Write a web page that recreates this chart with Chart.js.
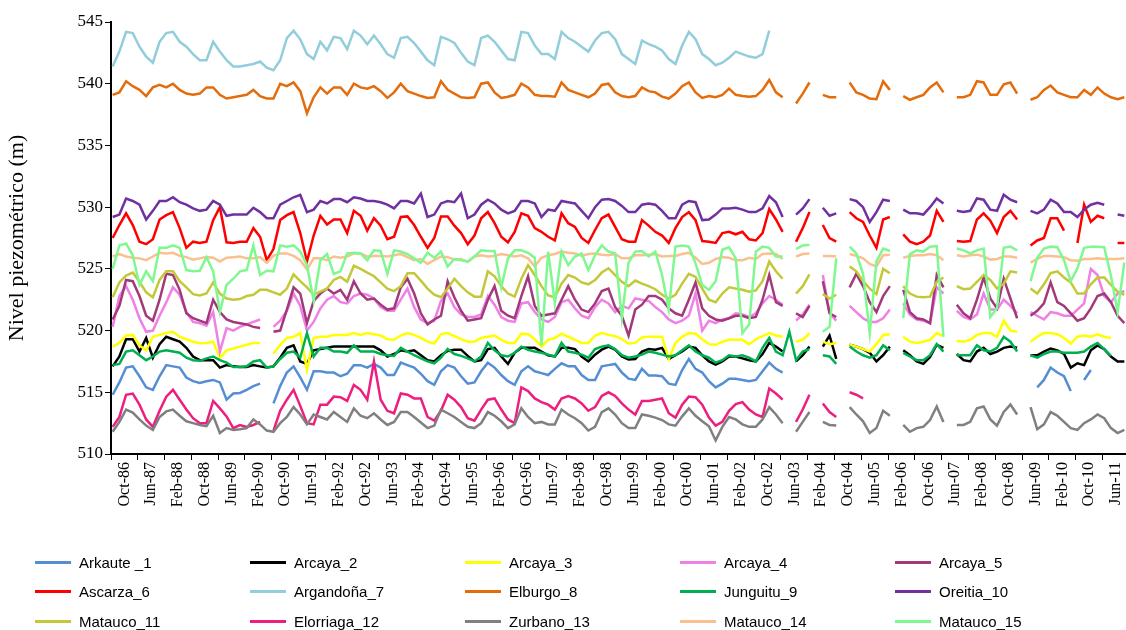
<!DOCTYPE html>
<html>
<head>
<meta charset="utf-8">
<script src="https://cdn.jsdelivr.net/npm/chart.js@4.4.1/dist/chart.umd.min.js"></script>
<style>
  html, body { margin: 0; padding: 0; background: #ffffff; }
  #wrap { position: relative; width: 1126px; height: 630px; }
  #legend { position: absolute; left: 0; top: 0; width: 1126px; height: 630px; pointer-events: none; }
  .item { position: absolute; display: flex; align-items: center; height: 20px;
          font-family: 'Liberation Sans', Arial, sans-serif; font-size: 15px; color: #000; white-space: nowrap; }
  .item i { display: inline-block; width: 36px; height: 3px; margin-right: 8px; }
</style>
</head>
<body>
<div id="wrap">
  <canvas id="c" width="1126" height="630"></canvas>
  <div id="legend"></div>
</div>
<script>
// Tick labels, one every 8 months starting Oct-86
const tickLabels = ['Oct-86','Jun-87','Feb-88','Oct-88','Jun-89','Feb-90','Oct-90','Jun-91','Feb-92','Oct-92',
  'Jun-93','Feb-94','Oct-94','Jun-95','Feb-96','Oct-96','Jun-97','Feb-98','Oct-98','Jun-99',
  'Feb-00','Oct-00','Jun-01','Feb-02','Oct-02','Jun-03','Feb-04','Oct-04','Jun-05','Feb-06',
  'Oct-06','Jun-07','Feb-08','Oct-08','Jun-09','Feb-10','Oct-10','Jun-11'];

// Piezometric levels (m), one reading every two months from Oct-86; null = no reading
const arkaute1 = [514.8,515.8,517.0,517.1,516.3,515.4,515.2,516.3,517.2,517.1,517.0,516.2,515.9,515.75,515.9,516.0,515.8,514.4,514.9,514.95,515.2,515.5,515.7,null,514.1,515.5,516.6,517.1,516.2,515.2,516.7,516.7,516.6,516.6,516.3,516.5,517.2,517.2,517.0,
  517.3,517.0,516.4,516.4,517.4,517.2,517.0,516.5,515.9,515.6,516.7,517.2,517.0,516.3,515.7,515.8,516.7,517.4,517.0,516.4,515.9,515.6,516.7,517.1,516.7,516.55,516.4,516.9,517.35,517.1,517.1,516.4,516.0,516.0,517.1,517.2,517.3,516.6,516.1,
  516.0,516.9,516.35,516.35,516.3,515.7,515.6,516.8,517.7,516.9,516.6,515.9,515.4,515.7,516.1,516.1,516.0,515.9,516.0,516.7,517.4,516.9,516.6,null,null,null,null,null,null,null,null,null,null,null,null,null,null,
  null,null,null,null,null,null,null,null,null,null,null,null,null,null,null,null,null,null,null,null,null,null,null,515.4,516.0,517.0,516.6,516.3,515.1,null,516.0,516.8,null,null,null,null,null];
const arcaya2 = [517.1,517.9,519.3,519.3,518.3,519.4,517.8,518.9,519.5,519.3,519.1,518.6,517.9,517.6,517.6,517.6,517.0,517.2,517.1,517.05,517.05,517.2,517.1,517.0,517.1,517.8,518.6,518.8,517.5,517.3,518.4,518.5,518.6,518.7,518.7,518.7,518.7,518.7,518.7,
  518.7,518.4,517.9,518.1,518.4,518.3,518.4,518.0,517.6,517.5,518.0,518.35,518.45,518.45,517.95,517.5,517.6,518.5,518.6,517.9,517.3,518.2,518.6,518.6,518.6,518.3,518.0,517.9,518.6,518.6,518.5,517.9,517.5,518.05,518.45,518.7,518.45,517.9,517.65,
  517.7,518.3,518.5,518.45,518.6,517.7,518.0,518.3,518.7,518.6,518.0,517.5,517.25,517.5,517.9,517.9,517.75,517.6,517.5,518.1,519.0,518.7,518.3,null,517.5,518.0,518.7,null,518.7,519.6,517.7,null,518.85,518.7,518.5,518.2,517.5,
  518.0,518.7,null,518.4,518.0,517.5,517.3,517.85,518.85,518.6,null,518.1,517.6,517.5,518.3,518.6,518.1,518.3,518.6,518.7,518.6,null,518.0,518.0,518.3,518.55,518.4,518.1,517.0,517.35,517.2,518.4,518.8,518.5,517.9,517.5,517.5];
const arcaya3 = [518.7,519.0,519.6,519.65,518.8,518.4,519.5,519.65,519.8,519.9,519.5,519.3,519.1,518.97,519.0,519.1,517.8,518.4,518.55,518.7,518.85,519.0,519.0,null,518.15,518.85,519.4,519.5,519.8,516.8,519.4,519.5,519.5,519.65,519.65,519.65,519.8,519.65,519.8,
  519.7,519.6,519.3,519.25,519.6,519.8,519.65,519.4,519.1,518.95,519.7,519.8,519.55,519.3,519.1,519.1,519.4,519.5,519.6,519.25,519.0,519.0,519.75,519.7,519.3,518.7,519.25,519.4,519.75,519.5,519.25,519.0,519.0,519.6,519.8,519.65,519.55,519.3,518.95,
  519.0,519.45,519.5,519.5,519.5,517.7,519.0,519.5,519.8,519.75,519.3,518.9,518.85,519.1,519.25,519.25,519.25,518.9,519.3,519.55,519.8,519.6,519.5,null,519.1,519.25,519.8,null,519.1,518.9,519.0,null,518.85,518.7,518.5,518.3,518.9,
  519.65,519.7,null,519.5,519.1,519.0,519.1,519.25,519.8,519.55,null,519.15,519.1,519.25,519.65,519.8,519.8,519.5,520.8,520.0,519.9,null,519.1,519.5,519.8,519.8,519.7,519.4,518.95,519.5,519.6,519.5,519.7,519.5,519.4,null,null];
const arcaya4 = [520.3,522.8,523.6,522.5,521.0,519.9,520.0,521.2,522.3,523.5,522.9,521.5,520.7,520.6,520.4,521.5,518.3,520.2,520.0,520.3,520.5,520.7,520.9,null,520.3,520.8,521.6,523.0,522.0,520.0,520.7,521.8,522.5,522.8,522.3,522.2,522.8,523.0,522.9,
  522.6,521.9,521.6,521.6,522.5,523.4,521.9,520.9,520.6,520.8,522.4,523.0,521.9,521.3,521.1,521.1,521.3,522.8,522.1,521.1,520.8,520.7,522.2,522.3,521.5,520.9,520.7,521.1,522.3,522.5,521.8,521.2,521.0,521.9,522.5,522.2,521.5,522.0,521.8,
  522.6,522.5,522.4,521.9,521.5,520.9,520.6,520.8,521.2,523.0,520.0,520.8,520.6,520.9,521.0,521.4,521.3,521.1,521.4,522.2,522.8,522.5,522.1,null,520.8,521.3,522.1,null,524.5,521.4,520.8,null,522.0,521.5,521.0,520.7,520.7,
  521.0,521.7,null,522.2,521.3,520.9,520.8,520.6,523.5,523.0,null,521.6,521.1,520.9,521.3,523.0,521.7,521.7,522.5,522.0,521.4,null,521.5,521.2,520.9,521.5,521.4,521.2,521.2,521.7,522.2,525.0,524.5,522.8,522.3,523.0,523.2];
const arcaya5 = [520.9,522.0,524.1,524.0,522.8,521.2,520.8,522.5,524.6,524.5,523.3,521.4,521.0,520.8,520.6,522.5,521.5,520.9,520.7,520.6,520.5,520.3,520.2,null,519.9,520.0,521.7,523.5,523.0,520.6,522.4,523.0,523.4,523.0,523.3,522.5,524.0,523.0,522.5,
  522.6,522.1,521.7,521.8,523.5,524.2,523.0,521.4,520.5,520.9,521.2,524.0,522.7,521.6,520.8,520.9,521.0,522.5,523.6,521.6,521.2,521.0,522.8,524.4,522.0,521.2,521.3,521.4,522.5,523.6,522.5,521.7,521.5,522.2,523.2,523.4,521.9,521.2,519.6,
  521.7,522.1,522.8,522.8,522.5,521.8,521.4,521.2,522.5,523.9,521.8,521.2,520.9,520.8,521.0,521.2,521.2,521.0,521.1,522.5,524.5,522.3,522.0,null,521.4,521.1,522.0,null,524.0,521.4,521.1,null,523.5,524.6,523.6,522.3,521.5,
  522.8,523.6,null,523.3,521.5,521.0,520.9,520.6,524.5,523.5,null,522.1,521.4,521.0,522.5,524.3,522.6,521.8,524.2,522.6,521.0,null,521.2,521.6,522.2,523.9,522.3,522.0,521.4,520.8,521.0,521.8,522.8,523.0,522.3,521.2,520.6];
const ascarza6 = [527.5,528.55,529.5,528.55,527.2,527.0,527.4,529.0,529.35,529.6,528.3,526.7,527.2,527.1,527.2,528.95,530.0,527.15,527.1,527.2,527.2,528.3,527.6,525.7,526.6,528.95,529.35,529.6,527.9,525.6,527.7,529.3,528.6,529.0,529.0,527.9,529.7,529.3,528.1,
  529.1,528.5,527.4,527.6,529.2,529.25,528.55,527.6,526.7,527.5,529.25,529.25,528.5,527.9,527.0,527.7,529.1,529.6,528.7,527.6,527.15,528.0,529.5,529.3,528.3,528.0,527.6,527.3,529.5,528.7,528.4,527.5,527.1,528.15,529.1,529.4,528.4,527.4,527.2,
  527.2,528.95,528.5,528.0,527.7,527.1,528.3,529.2,529.6,528.95,527.25,527.2,527.1,527.9,528.0,527.8,528.0,527.4,527.3,527.9,529.85,529.0,528.0,null,527.2,528.3,529.6,null,528.55,527.5,527.2,null,529.6,529.1,528.8,527.7,526.7,
  529.0,529.2,null,527.8,527.2,527.0,527.2,527.7,529.7,528.8,null,527.25,527.2,527.25,529.0,529.5,528.9,527.9,529.2,529.7,529.0,null,526.9,527.3,527.5,529.1,529.1,528.1,null,527.1,530.2,528.8,529.3,529.1,null,527.1,527.1];
const argandona7 = [541.4,542.6,544.2,544.1,543.0,542.2,541.7,543.4,544.1,544.2,543.4,543.0,542.4,541.9,541.9,543.4,542.6,541.9,541.4,541.4,541.5,541.6,541.8,541.3,541.1,541.9,543.7,544.3,543.6,542.4,542.0,543.4,542.7,543.8,543.7,542.8,544.3,543.9,543.2,
  543.9,543.2,542.4,542.1,543.7,543.8,543.3,542.6,541.9,541.5,543.8,543.6,543.3,542.5,541.8,541.5,543.7,543.9,543.4,542.7,542.0,541.9,544.2,544.1,543.1,542.4,542.4,542.0,544.2,543.7,543.4,543.0,542.6,543.5,544.1,544.2,543.6,542.4,542.0,
  541.6,543.5,543.2,543.0,542.7,542.0,541.6,543.1,544.2,543.6,542.4,542.0,541.5,541.7,542.1,542.6,542.4,542.2,542.1,542.4,544.3,null,null,null,null,null,null,null,null,null,null,null,null,null,null,null,null,
  null,null,null,null,null,null,null,null,null,null,null,null,null,null,null,null,null,null,null,null,null,null,null,null,null,null,null,null,null,null,null,null,null,null,null,null,null];
const elburgo8 = [539.1,539.3,540.2,539.8,539.5,539.0,539.7,539.9,539.7,540.0,539.5,539.2,539.1,539.2,539.7,539.7,539.1,538.8,538.9,539.0,539.1,539.5,539.0,538.8,538.8,540.0,539.8,540.1,539.4,537.6,538.9,539.7,539.2,539.7,539.7,539.1,540.0,539.7,539.6,
  539.8,539.4,538.85,539.3,540.0,539.4,539.2,539.0,538.85,538.9,540.2,539.5,539.2,538.9,538.85,538.9,540.0,540.1,539.3,538.85,538.95,539.1,540.0,539.7,539.1,539.0,539.0,538.95,540.1,539.5,539.3,539.1,538.9,539.2,539.9,540.0,539.3,539.0,538.9,
  539.0,539.7,539.4,539.3,538.95,538.8,539.2,539.8,540.1,539.3,538.85,539.0,538.9,539.1,539.6,539.1,539.0,538.95,539.0,539.5,540.3,539.3,538.9,null,538.4,539.2,540.1,null,539.1,538.9,538.9,null,540.1,539.3,539.1,538.8,538.75,
  540.2,539.5,null,539.0,538.7,538.9,539.1,539.7,540.1,539.3,null,538.9,538.9,539.1,540.2,540.1,539.1,539.1,539.95,540.1,539.2,null,538.7,538.9,539.5,539.85,539.3,539.1,538.9,538.9,539.5,539.1,539.7,539.2,538.9,538.75,538.9];
const junguitu9 = [517.2,517.3,518.3,518.4,518.0,517.6,517.9,518.3,518.4,518.3,518.2,517.8,517.6,517.55,517.75,517.9,517.6,517.4,517.05,517.05,517.1,517.5,517.6,517.0,517.1,517.7,518.2,518.3,517.8,519.8,517.9,518.6,518.6,518.3,518.3,518.2,518.8,518.3,518.3,
  518.3,518.1,518.0,517.95,518.6,518.3,518.0,517.75,517.5,517.35,517.8,518.5,518.1,517.95,517.75,517.5,517.9,519.0,518.4,518.0,517.9,518.2,518.7,518.45,518.3,518.2,518.05,517.9,519.0,518.3,518.2,518.05,517.8,518.5,518.7,518.8,518.5,518.0,517.8,
  517.9,518.05,518.3,518.2,518.05,517.9,518.0,518.4,518.8,518.3,518.0,517.8,517.4,517.6,518.0,517.9,518.0,517.8,517.5,518.6,519.4,518.3,518.0,519.9,517.6,518.3,518.5,null,518.0,517.9,517.3,null,518.7,518.3,518.0,517.8,518.0,
  518.8,518.4,null,518.2,517.9,517.6,517.6,518.0,518.9,518.3,null,518.0,518.0,518.0,518.8,518.4,518.3,518.6,519.5,519.1,518.3,null,518.0,517.8,518.1,518.3,518.3,518.2,518.2,518.2,518.3,518.7,519.0,518.5,517.95,null,null];
const oreitia10 = [529.2,529.4,530.7,530.5,530.2,529.0,529.7,530.5,530.5,530.8,530.4,530.2,529.9,529.7,529.8,530.5,530.2,529.3,529.4,529.4,529.4,529.95,529.6,529.1,529.1,530.2,530.5,530.8,531.0,529.6,529.8,530.5,530.3,530.65,530.65,530.4,530.8,530.7,530.5,
  530.5,530.4,530.2,529.9,530.5,530.5,530.3,531.1,529.2,529.4,530.3,530.5,530.4,531.1,529.1,529.4,530.2,530.6,530.3,529.8,529.5,529.7,530.5,530.5,530.3,529.2,529.8,529.7,530.5,530.4,530.3,529.7,529.1,530.0,530.6,530.65,530.5,530.1,529.6,
  529.6,530.2,530.3,530.2,529.7,529.1,529.1,530.2,530.5,530.4,528.95,529.0,529.4,529.9,529.9,529.95,529.8,529.6,529.6,529.9,530.9,530.4,529.2,null,529.4,529.9,530.65,null,529.95,529.3,529.5,null,530.65,530.5,530.0,528.8,529.6,
  530.6,530.5,null,529.8,529.5,529.5,529.4,530.0,530.7,530.3,null,529.7,529.6,529.7,530.7,530.6,529.8,529.7,531.0,530.6,530.4,null,529.7,529.5,529.8,530.6,530.3,529.6,529.6,529.2,529.8,530.2,530.35,530.2,null,529.4,529.3];
const matauco11 = [522.7,523.9,524.45,524.7,523.95,523.1,522.7,524.1,524.8,524.8,524.0,523.5,522.95,522.85,523.0,523.9,523.0,522.6,522.5,522.55,522.8,522.9,523.3,523.3,523.1,522.9,523.4,524.55,524.0,523.5,522.9,523.15,523.4,524.1,524.35,523.95,525.25,525.0,524.7,
  524.4,523.9,523.4,523.2,523.6,524.65,524.65,524.05,523.4,522.9,522.7,523.4,524.2,523.6,523.1,522.75,522.75,524.8,524.4,523.6,523.0,522.75,524.2,525.3,524.5,523.6,522.85,522.7,523.8,524.5,524.3,523.9,523.75,524.1,524.7,525.05,524.5,523.95,523.6,
  524.05,523.8,523.6,523.35,522.9,522.6,522.9,523.8,524.6,524.35,523.4,522.5,522.3,523.0,523.5,523.4,523.3,523.15,523.25,524.0,525.6,524.8,524.2,null,523.0,523.6,524.55,null,522.95,522.6,522.9,null,525.2,524.8,524.0,523.4,522.95,
  525.0,524.65,null,523.6,523.0,522.75,522.7,522.75,523.95,524.3,null,523.6,523.35,523.4,523.95,524.5,524.1,523.4,523.8,524.8,524.7,null,523.4,523.0,523.75,524.65,524.8,524.3,523.9,523.0,523.0,523.75,524.3,524.3,523.7,523.15,522.9];
const elorriaga12 = [512.2,513.0,514.8,514.9,514.0,512.8,512.2,513.5,514.65,515.2,514.4,513.6,512.9,512.5,512.5,514.3,513.7,513.05,512.1,512.35,512.2,512.35,512.6,null,511.9,513.5,514.4,515.2,513.9,512.5,512.4,514.0,514.0,514.65,514.6,514.3,515.6,515.2,514.4,
  517.5,514.4,513.5,513.3,514.9,514.8,514.5,514.5,513.0,512.7,513.5,514.8,514.4,513.8,512.9,512.7,513.6,514.4,514.5,513.6,512.8,512.5,515.4,515.1,514.5,514.2,514.0,513.6,514.5,514.7,514.5,514.1,513.5,513.8,514.7,515.0,514.7,514.1,513.6,
  513.2,514.3,514.3,514.4,514.5,513.3,512.95,514.0,514.65,514.6,514.0,512.95,512.3,512.6,513.5,514.05,514.2,513.6,513.2,513.0,515.3,514.9,514.4,null,512.6,513.6,514.8,null,514.1,513.4,513.0,null,515.0,514.8,514.5,null,null,
  null,null,null,null,null,null,null,null,null,null,null,null,null,null,null,null,null,null,null,null,null,null,null,null,null,null,null,null,null,null,null,null,null,null,null,null,null];
const zurbano13 = [511.8,512.6,513.6,513.35,512.8,512.3,511.95,513.0,513.45,513.6,513.1,512.65,512.5,512.35,512.25,513.1,511.7,512.1,511.95,512.0,512.1,512.8,512.4,511.9,511.8,512.5,513.0,513.8,513.2,512.4,513.2,513.0,512.8,513.4,513.0,512.6,513.7,513.1,512.9,
  513.3,512.8,512.35,512.6,513.4,513.4,513.0,512.55,512.1,512.3,513.6,513.3,513.0,512.6,512.2,512.1,512.5,513.4,513.1,512.65,512.1,512.4,513.7,513.0,512.5,512.6,512.4,512.4,513.6,513.2,512.9,512.5,511.9,512.2,513.4,513.7,513.2,512.5,512.1,
  512.1,513.2,513.1,512.95,512.75,512.4,512.3,513.05,513.7,513.1,512.65,512.25,511.1,512.2,513.0,512.8,512.4,512.2,512.2,512.8,513.8,513.2,512.5,null,511.8,512.6,513.4,null,512.6,512.35,512.3,null,513.8,513.2,512.65,511.7,512.1,
  513.5,513.1,null,512.35,511.8,512.1,512.2,512.75,513.85,512.6,null,512.35,512.35,512.6,513.7,513.85,512.8,512.3,513.4,514.0,513.2,null,513.8,512.0,512.4,513.4,513.1,512.6,512.1,511.95,512.5,512.8,513.2,512.9,512.1,511.7,511.95];
const matauco14 = [526.0,526.2,526.0,525.9,525.85,525.7,526.0,526.3,526.25,526.3,526.05,525.95,525.75,525.85,525.95,525.9,525.6,525.9,525.95,526.0,525.85,525.85,525.95,525.5,526.05,526.25,526.25,526.05,525.7,524.95,525.85,525.85,525.7,526.0,525.9,526.0,526.25,526.25,526.0,
  526.05,526.05,526.0,526.1,526.2,525.95,525.7,525.8,525.4,525.7,526.0,525.95,525.75,525.8,525.55,526.0,526.1,526.0,526.05,526.2,526.1,526.0,526.1,525.85,525.2,525.9,526.1,526.2,526.4,526.3,526.25,526.05,526.2,526.25,526.15,526.1,526.2,525.85,525.85,
  526.1,526.1,526.15,526.2,526.0,526.05,526.05,526.2,526.3,525.9,525.4,525.5,525.8,525.95,525.9,525.7,525.7,525.9,525.8,526.2,526.25,526.2,525.8,null,526.0,526.2,526.25,null,526.05,526.05,526.0,null,526.2,526.05,525.85,525.4,525.2,
  526.1,526.15,null,525.9,526.05,526.1,526.1,526.2,526.1,525.7,null,526.1,526.0,526.1,526.15,526.0,525.75,525.8,526.0,526.0,525.9,null,525.5,525.8,526.05,526.05,526.0,525.95,525.7,525.65,525.8,525.8,525.85,525.8,525.8,525.8,525.85];
const matauco15 = [525.0,526.9,527.05,526.1,523.7,524.8,524.0,526.7,526.7,526.9,526.7,524.9,524.8,524.85,525.95,524.8,521.5,523.7,524.2,524.8,524.9,526.9,524.5,524.85,524.8,526.9,526.8,526.9,526.4,525.3,522.4,525.7,526.2,524.6,524.8,526.25,526.3,526.25,525.7,
  526.5,526.45,524.6,526.5,526.4,526.2,525.85,525.5,526.3,525.9,526.4,525.2,525.8,525.7,525.6,526.0,526.5,526.45,526.45,523.5,525.85,526.5,526.5,526.3,525.9,518.8,526.4,522.2,526.4,525.3,526.0,526.25,524.9,526.1,526.9,526.4,526.25,521.0,525.5,
  526.4,526.45,526.0,526.4,524.5,521.7,526.8,526.9,526.8,525.45,523.7,523.3,524.0,526.55,526.75,525.85,519.8,520.5,526.4,526.8,526.7,526.0,526.0,null,526.6,526.9,526.95,null,519.9,520.3,525.85,null,526.8,526.25,524.6,519.8,525.6,
  526.65,526.45,null,521.0,526.2,526.5,526.4,526.8,526.85,519.5,null,526.65,526.5,526.25,526.5,526.65,521.1,521.8,526.7,526.8,526.5,null,524.0,525.9,526.65,526.8,526.75,525.7,524.0,525.05,526.7,526.8,526.8,526.75,524.45,521.5,525.5];

const seriesNames = ['Arkaute _1','Arcaya_2','Arcaya_3','Arcaya_4','Arcaya_5','Ascarza_6','Argandoña_7','Elburgo_8',
  'Junguitu_9','Oreitia_10','Matauco_11','Elorriaga_12','Zurbano_13','Matauco_14','Matauco_15'];
const seriesValues = [arkaute1, arcaya2, arcaya3, arcaya4, arcaya5, ascarza6, argandona7, elburgo8,
  junguitu9, oreitia10, matauco11, elorriaga12, zurbano13, matauco14, matauco15];
const seriesColors = ['#558ed5','#000000','#ffff00','#ee80e6','#a3387a','#ff0000','#92cddc','#e46c0a',
  '#00b050','#7030a0','#c3c838','#ee1e7e','#808080','#fac090','#80f890'];

// readings are every second month, placed mid-month on a month-index axis
const MONTH_SPAN = 303;
const STEP = 2;

const serif = "'Liberation Serif', 'Times New Roman', serif";

const datasets = seriesValues.map((vals, s) => ({
  label: seriesNames[s],
  data: vals.map((v, i) => ({ x: i * STEP + 0.5, y: v })),
  borderColor: seriesColors[s],
  backgroundColor: seriesColors[s],
  borderWidth: 2.5,
  pointRadius: 0,
  fill: false,
  spanGaps: false,
  tension: 0,
  order: seriesNames.length - s
}));

const chart = new Chart(document.getElementById('c'), {
  type: 'line',
  data: { datasets },
  options: {
    responsive: false,
    animation: false,
    devicePixelRatio: 1,
    layout: { padding: { top: 22, bottom: 116, left: 0, right: 0 } },
    plugins: { legend: { display: false }, tooltip: { enabled: false } },
    scales: {
      x: {
        type: 'linear',
        min: 0,
        max: MONTH_SPAN,
        afterBuildTicks: (scale) => { scale.ticks = tickLabels.map((t, k) => ({ value: k * 8 })); },
        afterFit: (scale) => { scale.height = 60; },
        ticks: {
          autoSkip: false,
          minRotation: 90,
          maxRotation: 90,
          labelOffset: 13.4,
          padding: 2,
          color: '#000',
          font: { family: serif, size: 16 },
          callback: (value, index) => tickLabels[index]
        },
        grid: { drawOnChartArea: false, drawTicks: true, tickLength: 6, color: '#000', lineWidth: 1 },
        border: { display: true, color: '#000', width: 2 }
      },
      y: {
        min: 510,
        max: 545,
        afterFit: (scale) => { scale.width = 111; },
        ticks: { stepSize: 5, padding: 2, color: '#000', font: { family: serif, size: 17 } },
        grid: { drawOnChartArea: false, drawTicks: true, tickLength: 6, color: '#000', lineWidth: 1 },
        border: { display: true, color: '#000', width: 2 },
        title: { display: true, text: 'Nivel piezométrico (m)', color: '#000',
                 font: { family: serif, size: 22 }, padding: { top: 4, bottom: 0 } }
      }
    }
  }
});

// legend: five columns, three rows, built from the chart's datasets
const legendEl = document.getElementById('legend');
chart.data.datasets.forEach((ds, i) => {
  const col = i % 5, row = Math.floor(i / 5);
  const el = document.createElement('div');
  el.className = 'item';
  el.style.left = (35 + col * 215) + 'px';
  el.style.top = (552 + row * 29.5) + 'px';
  const sw = document.createElement('i');
  sw.style.background = ds.borderColor;
  el.appendChild(sw);
  el.appendChild(document.createTextNode(ds.label));
  legendEl.appendChild(el);
});
</script>
</body>
</html>
